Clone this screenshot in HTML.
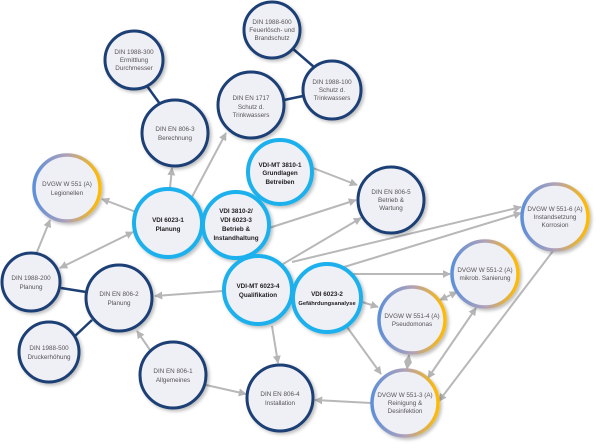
<!DOCTYPE html>
<html><head><meta charset="utf-8"><style>
html,body{margin:0;padding:0;background:#fff;width:600px;height:448px;overflow:hidden}
svg text{font-family:"Liberation Sans",sans-serif;font-size:6.3px;fill:#555;text-anchor:middle}
svg text.b{font-weight:bold;fill:#222}
</style></head><body>
<svg width="600" height="448" viewBox="0 0 600 448" xmlns="http://www.w3.org/2000/svg">
<defs>
<linearGradient id="g" x1="0" y1="0" x2="1" y2="0">
<stop offset="0" stop-color="#5f8fd8"/><stop offset="0.5" stop-color="#b0a2b8"/><stop offset="1" stop-color="#ffbb00"/>
</linearGradient>
<marker id="a" viewBox="0 0 10 10" refX="9" refY="5" markerWidth="4" markerHeight="4" orient="auto-start-reverse"><path d="M0,0L10,5L0,10z" fill="#b5b5b5"/></marker>
<filter id="s" x="-20%" y="-20%" width="150%" height="150%"><feDropShadow dx="2" dy="2" stdDeviation="1.5" flood-color="#000" flood-opacity="0.25"/></filter>
</defs>
<g stroke="#1d3f74" stroke-width="2.5">
<line x1="147" y1="86" x2="160" y2="104"/>
<line x1="292" y1="48" x2="314" y2="67"/>
<line x1="284" y1="100" x2="303" y2="96"/>
<line x1="61" y1="288" x2="86" y2="292"/>
<line x1="75" y1="336" x2="92" y2="320"/>
</g>
<g stroke="#b8b8b8" stroke-width="2" marker-end="url(#a)" fill="none">
<line x1="170" y1="188" x2="172" y2="168"/>
<line x1="192" y1="197" x2="226" y2="133"/>
<line x1="136" y1="212" x2="102" y2="199"/>
<line x1="37" y1="252" x2="50" y2="220"/>
<line x1="60" y1="268" x2="133" y2="232" marker-start="url(#a)"/>
<line x1="313" y1="168" x2="357" y2="185"/>
<line x1="269" y1="228" x2="356" y2="200"/>
<line x1="283" y1="264" x2="361" y2="218"/>
<line x1="223" y1="291" x2="155" y2="296"/>
<line x1="272" y1="326" x2="278" y2="363"/>
<line x1="150" y1="350" x2="137" y2="331"/>
<line x1="206" y1="385" x2="246" y2="394"/>
<line x1="292" y1="262" x2="521" y2="207" />
<line x1="344" y1="267" x2="521" y2="213"/>
<line x1="351" y1="274" x2="450" y2="274"/>
<line x1="362" y1="302" x2="378" y2="307"/>
<line x1="347" y1="327" x2="381" y2="374"/>
<line x1="440" y1="300" x2="457" y2="292" marker-start="url(#a)"/>
<line x1="476" y1="308" x2="428" y2="378" marker-start="url(#a)"/>
<line x1="409" y1="355" x2="407" y2="369" marker-start="url(#a)"/>
<line x1="553" y1="251" x2="439" y2="401"/>
<line x1="371" y1="403" x2="315" y2="400"/>
</g>
<g filter="url(#s)" fill="#efeff6">
<g stroke="#1d3f74" stroke-width="3">
<circle cx="134" cy="60" r="29"/>
<circle cx="272" cy="30" r="28"/>
<circle cx="332" cy="90" r="29"/>
<circle cx="251" cy="105" r="33"/>
<circle cx="175" cy="133" r="33"/>
<circle cx="391" cy="200" r="33"/>
<circle cx="31" cy="282" r="29"/>
<circle cx="119" cy="298" r="33"/>
<circle cx="49" cy="352" r="30"/>
<circle cx="173" cy="375" r="33"/>
<circle cx="280" cy="398" r="33"/>
</g>
<g stroke="#1ab0ec" stroke-width="4">
<circle cx="168" cy="223" r="34"/>
<circle cx="280" cy="172" r="32"/>
<circle cx="236" cy="225" r="33"/>
<circle cx="258" cy="290" r="34"/>
<circle cx="327" cy="298" r="34"/>
</g>
<g stroke="url(#g)" stroke-width="3.5">
<circle cx="67" cy="188" r="33"/>
<circle cx="555" cy="217" r="33"/>
<circle cx="485" cy="274" r="33"/>
<circle cx="412" cy="320" r="33"/>
<circle cx="405" cy="403" r="33"/>
</g>
</g>
<text x="134" y="54">DIN 1988-300</text><text x="134" y="62">Ermittlung</text><text x="134" y="70">Durchmesser</text>
<text x="272" y="24">DIN 1988-600</text><text x="272" y="32">Feuerlösch- und</text><text x="272" y="40">Brandschutz</text>
<text x="332" y="84">DIN 1988-100</text><text x="332" y="92">Schutz d.</text><text x="332" y="100">Trinkwassers</text>
<text x="251" y="100">DIN EN 1717</text><text x="251" y="109">Schutz d.</text><text x="251" y="117">Trinkwassers</text>
<text x="175" y="131">DIN EN 806-3</text><text x="175" y="140">Berechnung</text>
<text x="391" y="194">DIN EN 806-5</text><text x="391" y="202">Betrieb &amp;</text><text x="391" y="210">Wartung</text>
<text x="31" y="280">DIN 1988-200</text><text x="31" y="289">Planung</text>
<text x="119" y="296">DIN EN 806-2</text><text x="119" y="305">Planung</text>
<text x="49" y="350">DIN 1988-500</text><text x="49" y="359">Druckerhöhung</text>
<text x="173" y="373">DIN EN 806-1</text><text x="173" y="382">Allgemeines</text>
<text x="280" y="396">DIN EN 806-4</text><text x="280" y="405">Installation</text>
<text class="b" x="168" y="222">VDI 6023-1</text><text class="b" x="168" y="231">Planung</text>
<text class="b" x="280" y="167">VDI-MT 3810-1</text><text class="b" x="280" y="175">Grundlagen</text><text class="b" x="280" y="184">Betreiben</text>
<text class="b" x="236" y="213">VDI 3810-2/</text><text class="b" x="236" y="222">VDI 6023-3</text><text class="b" x="236" y="231">Betrieb &amp;</text><text class="b" x="236" y="240">Instandhaltung</text>
<text class="b" x="258" y="288">VDI-MT 6023-4</text><text class="b" x="258" y="297">Qualifikation</text>
<text class="b" x="327" y="296">VDI 6023-2</text><text class="b" x="327" y="305" style="font-size:5.8px">Gefährdungsanalyse</text>
<text x="67" y="186">DVGW W 551 (A)</text><text x="67" y="195">Legionellen</text>
<text x="555" y="211">DVGW W 551-6 (A)</text><text x="555" y="219">Instandsetzung</text><text x="555" y="227">Korrosion</text>
<text x="485" y="272">DVGW W 551-2 (A)</text><text x="485" y="280">mikrob. Sanierung</text>
<text x="412" y="318">DVGW W 551-4 (A)</text><text x="412" y="326">Pseudomonas</text>
<text x="405" y="397">DVGW W 551-3 (A)</text><text x="405" y="405">Reinigung &amp;</text><text x="405" y="413">Desinfektion</text>
</svg>
</body></html>
